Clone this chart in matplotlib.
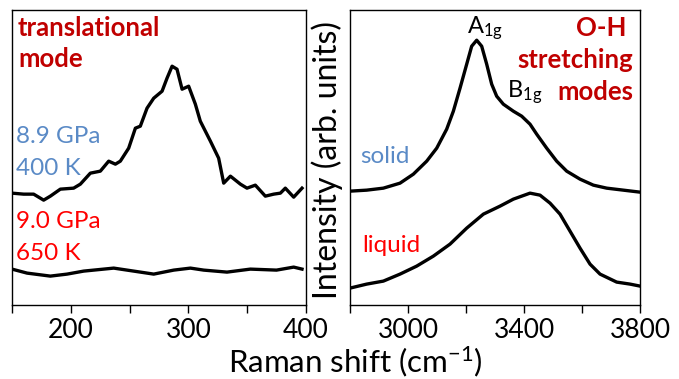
import matplotlib
matplotlib.use("Agg")
import matplotlib.pyplot as plt

plt.rcParams['font.family'] = ['Lato', 'DejaVu Sans']
plt.rcParams['mathtext.fontset'] = 'custom'
plt.rcParams['mathtext.rm'] = 'Lato'
plt.rcParams['mathtext.it'] = 'Lato:italic'
plt.rcParams['mathtext.bf'] = 'Lato:bold'

# low-frequency (translational) region
trans_shift_solid = [150, 159.9, 168.4, 176.9, 182.6, 191.1, 202.4, 208.1, 216.6, 225.1,
                     232.2, 237.9, 242.1, 249.2, 254.9, 259.1, 264.8, 270.5, 277.6, 281.8,
                     286.1, 290.3, 294.6, 300.2, 305.9, 310.1, 318.7, 325.7, 330.0, 335.7,
                     344.2, 349.8, 356.9, 365.4, 372.5, 378.2, 382.4, 389.5, 396.6]
trans_int_solid = [112, 111, 111, 105, 109, 116, 117, 121, 132, 134,
                   144, 141, 144, 157, 177, 179, 197, 207, 214, 227,
                   239, 236, 216, 219, 201, 184, 164, 147, 122, 129,
                   121, 117, 120, 109, 111, 112, 117, 108, 117]

trans_shift_liquid = [150, 162.8, 182.6, 196.8, 210.9, 236.5, 253.5, 270.5, 287.5,
                      301.7, 313.0, 332.8, 352.7, 374.9, 389.5, 396.6]
trans_int_liquid = [36, 32, 29, 31, 34, 37, 34, 31, 35, 37, 35, 33, 36, 35, 38, 36]

# O-H stretching region
oh_shift_solid = [2800, 2857.5, 2914.9, 2972.4, 3018.4, 3064.4, 3098.9, 3133.3, 3156.3,
                  3179.3, 3202.3, 3219.5, 3236.8, 3254.0, 3271.3, 3288.5, 3305.7, 3328.7,
                  3363.2, 3392.0, 3420.7, 3443.7, 3478.2, 3512.6, 3547.1, 3593.1, 3639.1,
                  3685.1, 3742.5, 3800]
oh_int_solid = [114, 115, 117, 122, 131, 144, 157, 176, 194,
                217, 241, 259, 265, 259, 241, 221, 209, 201,
                194, 189, 181, 171, 157, 144, 134, 126, 120,
                117, 115, 113]

oh_shift_liquid = [2800, 2857.5, 2914.9, 2972.4, 3029.9, 3087.4, 3144.8, 3202.3, 3259.8,
                   3317.2, 3363.2, 3420.7, 3455.2, 3489.7, 3524.1, 3558.6, 3593.1, 3627.6,
                   3662.1, 3719.5, 3765.5, 3800]
oh_int_liquid = [17, 21, 24, 31, 39, 49, 61, 77, 91,
                 99, 106, 112, 110, 102, 91, 74, 57, 41,
                 31, 23, 21, 19]

dark_red = '#c00000'
blue = '#5a8ac6'
red = '#ff0000'

fig = plt.figure(figsize=(6.79, 3.79), dpi=100)
ax1 = fig.add_axes([0.0177, 0.195, 0.433, 0.778])
ax2 = fig.add_axes([0.5155, 0.195, 0.4271, 0.778])

ax1.plot(trans_shift_solid, trans_int_solid, color='black', lw=2.4)
ax1.plot(trans_shift_liquid, trans_int_liquid, color='black', lw=2.4)
ax1.set_xlim(150, 400)
ax1.set_xticks([150, 200, 250, 300, 350, 400])
ax1.set_xticklabels(['', '200', '', '300', '', '400'])

ax2.plot(oh_shift_solid, oh_int_solid, color='black', lw=2.4)
ax2.plot(oh_shift_liquid, oh_int_liquid, color='black', lw=2.4)
ax2.set_xlim(2800, 3800)
ax2.set_xticks([2800, 3000, 3200, 3400, 3600, 3800])
ax2.set_xticklabels(['', '3000', '', '3400', '', '3800'])

for ax in (ax1, ax2):
    ax.set_ylim(0, 295)
    ax.set_yticks([])
    ax.tick_params(axis='x', direction='out', length=6, width=1, labelsize=19, pad=3)
    for s in ax.spines.values():
        s.set_linewidth(1)

# panel titles, one line at a time
bold = dict(color=dark_red, fontsize=18.5, fontweight='bold', va='baseline')
ax1.text(0.02, 0.912, 'translational', transform=ax1.transAxes, ha='left', **bold)
ax1.text(0.02, 0.807, 'mode', transform=ax1.transAxes, ha='left', **bold)
ax2.text(0.955, 0.912, 'O-H', transform=ax2.transAxes, ha='right', **bold)
ax2.text(0.976, 0.803, 'stretching', transform=ax2.transAxes, ha='right', **bold)
ax2.text(0.976, 0.695, 'modes', transform=ax2.transAxes, ha='right', **bold)

# condition labels
lab = dict(fontsize=17.5, va='baseline')
ax1.text(0.013, 0.549, '8.9 GPa', transform=ax1.transAxes, color=blue, **lab)
ax1.text(0.013, 0.441, '400 K', transform=ax1.transAxes, color=blue, **lab)
ax1.text(0.013, 0.261, '9.0 GPa', transform=ax1.transAxes, color=red, **lab)
ax1.text(0.013, 0.153, '650 K', transform=ax1.transAxes, color=red, **lab)
ax2.text(0.036, 0.481, 'solid', transform=ax2.transAxes, color=blue, **lab)
ax2.text(0.042, 0.18, 'liquid', transform=ax2.transAxes, color=red, **lab)

# peak assignments
ax2.text(3205, 272, r'A$_{\rm 1g}$', ha='left', va='baseline', fontsize=17)
ax2.text(3342, 208, r'B$_{\rm 1g}$', ha='left', va='baseline', fontsize=17)

fig.text(0.482, 0.578, 'Intensity (arb. units)', rotation=90, ha='center', va='center',
         fontsize=23)
fig.text(0.523, 0.045, r'Raman shift (cm$^{-1}$)', ha='center', va='center', fontsize=22.5)

fig.savefig('out.png', dpi=100)
